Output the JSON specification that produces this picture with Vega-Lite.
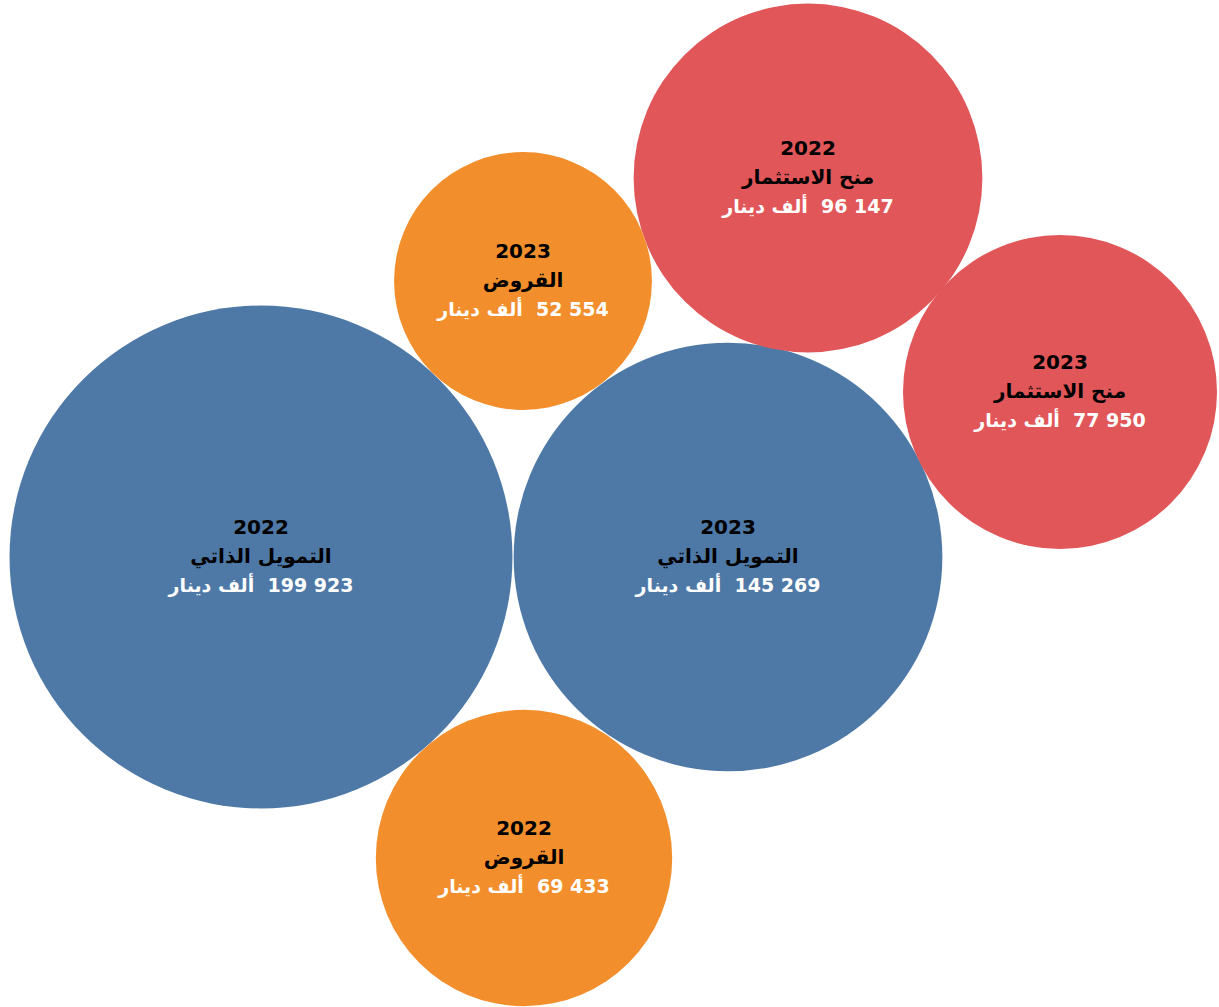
{
  "$schema": "https://vega.github.io/schema/vega-lite/v6.json",
  "autosize": {"type": "fit", "contains": "padding"},
  "width": 1219,
  "height": 1007,
  "padding": 0,
  "background": "white",
  "config": {"view": {"stroke": null}},
  "data": {
    "values": [
      {"category": "التمويل الذاتي", "year": "2022", "value": 199923, "label": "ألف دينار\u200e\u00a0\u00a0199 923", "x": 261, "y": 557},
      {"category": "التمويل الذاتي", "year": "2023", "value": 145269, "label": "ألف دينار\u200e\u00a0\u00a0145 269", "x": 728, "y": 557},
      {"category": "منح الاستثمار", "year": "2022", "value": 96147, "label": "ألف دينار\u200e\u00a0\u00a096 147", "x": 808, "y": 178},
      {"category": "منح الاستثمار", "year": "2023", "value": 77950, "label": "ألف دينار\u200e\u00a0\u00a077 950", "x": 1060, "y": 392},
      {"category": "القروض", "year": "2023", "value": 52554, "label": "ألف دينار\u200e\u00a0\u00a052 554", "x": 523, "y": 281},
      {"category": "القروض", "year": "2022", "value": 69433, "label": "ألف دينار\u200e\u00a0\u00a069 433", "x": 524, "y": 858}
    ]
  },
  "encoding": {
    "x": {"field": "x", "type": "quantitative", "scale": {"domain": [0, 1219]}, "axis": null},
    "y": {"field": "y", "type": "quantitative", "scale": {"domain": [0, 1007], "reverse": true}, "axis": null}
  },
  "layer": [
    {
      "mark": {"type": "circle", "opacity": 1},
      "encoding": {
        "size": {"field": "value", "type": "quantitative", "scale": {"type": "linear", "zero": true, "domain": [0, 200000], "range": [0, 253032]}, "legend": null},
        "color": {"field": "category", "type": "nominal", "scale": {"domain": ["التمويل الذاتي", "منح الاستثمار", "القروض"], "range": ["#4e79a7", "#e15759", "#f28e2b"]}, "legend": null}
      }
    },
    {
      "mark": {"type": "text", "font": "DejaVu Sans", "fontWeight": "bold", "fontSize": 20, "color": "#000000", "dy": -29, "baseline": "middle", "align": "center"},
      "encoding": {"text": {"field": "year", "type": "nominal"}}
    },
    {
      "mark": {"type": "text", "font": "DejaVu Sans", "fontWeight": "bold", "fontSize": 20, "color": "#000000", "dy": 0, "baseline": "middle", "align": "center"},
      "encoding": {"text": {"field": "category", "type": "nominal"}}
    },
    {
      "mark": {"type": "text", "font": "DejaVu Sans", "fontWeight": "bold", "fontSize": 19, "color": "#ffffff", "dy": 29, "baseline": "middle", "align": "center"},
      "encoding": {"text": {"field": "label", "type": "nominal"}}
    }
  ]
}
